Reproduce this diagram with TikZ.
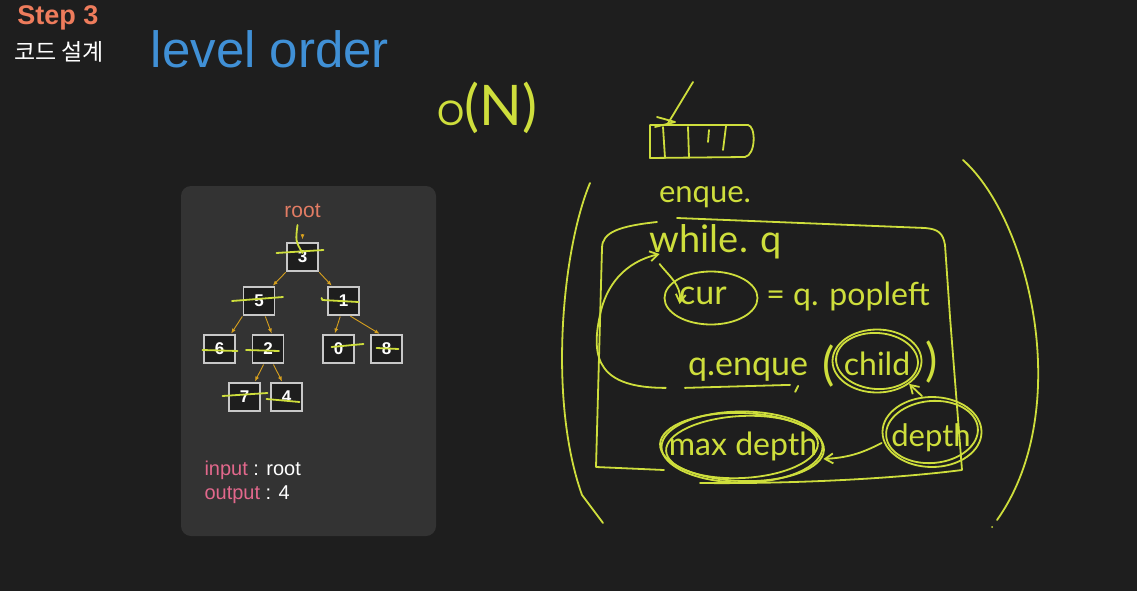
\documentclass[tikz,border=0pt]{standalone}
\usepackage{fontspec}
\setmainfont{Liberation Sans}
\newfontfamily\hand{Lato}
\newfontfamily\kr{Noto Sans CJK KR}
\usetikzlibrary{arrows.meta,positioning,calc,shapes.geometric}

\definecolor{bg}{RGB}{30,30,30}
\definecolor{card}{RGB}{51,51,51}
\definecolor{pen}{RGB}{206,222,60}
\definecolor{stepc}{RGB}{238,124,92}
\definecolor{titlec}{RGB}{64,144,214}
\definecolor{rootc}{RGB}{226,124,100}
\definecolor{ioc}{RGB}{226,104,140}
\definecolor{arrc}{RGB}{214,160,30}
\definecolor{boxline}{RGB}{200,200,200}

\newcommand{\fs}[1]{\fontsize{#1}{#1}\selectfont}

\begin{document}
\begin{tikzpicture}[x=1pt, y=-1pt,
  tnode/.style={draw=boxline, fill=bg, line width=1.2, minimum width=31, minimum height=28, inner sep=0pt, text=white, font=\bfseries\fs{17}},
  tarr/.style={-{Latex[length=5pt,width=4pt]}, arrc, line width=0.9, shorten <=1pt, shorten >=1pt},
  strike/.style={draw=pen, line width=1.8, line cap=round},
  penline/.style={draw=pen, line width=1.8, line cap=round, line join=round},
  harr/.style={penline, -{Straight Barb[length=8pt,width=10pt]}},
  hw/.style={text=pen, inner sep=0pt},
  ring/.style={draw=pen, line width=1.8, ellipse, inner sep=0pt}
]
\useasboundingbox (0,0) rectangle (1137,591);
\fill[bg] (0,0) rectangle (1137,591);

% title
\node[text=stepc, font=\bfseries\fs{27}] (step) at (58,18) {Step 3};
\node[text=white, font=\kr\fs{23}] (kor) at (59,52) {코드 설계};
\node[text=titlec, font=\fs{51}] (title) at (270,49) {level order};

% card with the tree
\fill[card, rounded corners=10] (181,186) rectangle (436,536);
\node[text=rootc, font=\fs{21}] (root) at (302.5,211) {root};

\node[tnode] (n3) at (302.5,257) {3};
\node[tnode] (n5) at (259,301) {5};
\node[tnode] (n1) at (343.5,301) {1};
\node[tnode] (n6) at (219.5,349) {6};
\node[tnode] (n2) at (268,349) {2};
\node[tnode] (n0) at (338.5,349) {0};
\node[tnode] (n8) at (386.5,349) {8};
\node[tnode] (n7) at (244.5,397) {7};
\node[tnode] (n4) at (286.5,397) {4};

\draw[tarr, shorten <=13pt, shorten >=3pt] (root) -- (n3);
\draw[tarr] (n3.south west) -- ([xshift=-3pt]n5.north east);
\draw[tarr] (n3.south east) -- ([xshift=5pt]n1.north west);
\draw[tarr] (n5.south west) -- ([xshift=-5pt]n6.north east);
\draw[tarr] ([xshift=6pt]n5.south) -- ([xshift=4pt]n2.north);
\draw[tarr] ([xshift=-3pt]n1.south) -- ([xshift=-4pt]n0.north);
\draw[tarr] ([xshift=6pt]n1.south) -- ([xshift=-6pt]n8.north);
\draw[tarr] ([xshift=-4pt]n2.south) -- ([xshift=10pt]n7.north);
\draw[tarr] ([xshift=5pt]n2.south) -- ([xshift=-4pt]n4.north);

% crossed out nodes
\draw[strike] ($(root)+(-5,14)$) .. controls ($(root)+(-7,30)$) .. ($(n3)+(0,-4)$);
\draw[strike] ($(n3)+(-26,-4)$) -- ($(n3)+(21,-7)$);
\draw[strike] ($(n5)+(-27,0)$) -- ($(n5)+(24,-4)$);
\draw[strike] ($(n1)+(-22,-3)$) -- ($(n1)+(-21,-1)$) -- ($(n1)+(15,1)$);
\draw[strike] ($(n6)+(-17,1)$) -- ($(n6)+(18,2)$);
\draw[strike] ($(n2)+(-22,1)$) -- ($(n2)+(11,2)$);
\draw[strike] ($(n0)+(-7,-2)$) -- ($(n0)+(25,-5)$);
\draw[strike] ($(n8)+(-10,-1)$) -- ($(n8)+(12,0)$);
\draw[strike] ($(n7)+(-22,-1)$) -- ($(n7)+(23,-4)$);
\draw[strike] ($(n4)+(-20,2)$) -- ($(n4)+(13,5)$);

\node[anchor=west, text=white, font=\fs{20}] (inp) at (201,470) {\textcolor{ioc}{input} : root};
\node[anchor=west, text=white, font=\fs{20}] (outp) at (201,495) {\textcolor{ioc}{output} : 4};

% handwritten notes
\node[hw, font=\hand\fs{56}] (big) at (487,108) {{\fs{34}O}(N)};

\draw[penline] (650,125) -- (748,125) .. controls (756,126) and (756,155) .. (745,157) -- (650,158) -- cycle;
\draw[penline] (663,127) -- (665,158);
\draw[penline] (688,127) -- (689,158);
\draw[penline] (709,130) -- (708,142);
\draw[penline] (726,126) -- (723,150);
\draw[penline] (693,82) -- (667,125);
\draw[penline] (657,117) -- (675,122) -- (655,127);

\draw[penline] (590,183) .. controls (562,250) and (548,400) .. (582,495) -- (603,523);
\draw[penline] (963,160) .. controls (1030,220) and (1075,410) .. (997,520);
\fill[pen] (992,527) circle (1);

\node[hw, font=\hand\fs{31}] (enq0) at (705,197) {enque.};
\node[hw, font=\hand\fs{38}] (while) at (716,242) {while. q};
\node[ring, minimum width=93, minimum height=53] (cur) at (711,298) {};
\node[hw, font=\hand\fs{34}] (curt) at (703,296) {cur};
\node[hw, font=\hand\fs{32}] (pop) at (848,296) {= q. popleft};

\node[hw, font=\hand\fs{34}] (enq) at (748,370) {q.enque};
\node[ring, minimum width=89, minimum height=63] (child) at (877,361) {};
\draw[penline] (child.center) ellipse[x radius=41, y radius=28, rotate=-4];
\node[hw, font=\hand\fs{32}] (childt) at (877,364) {child};
\node[hw, font=\hand\fs{46}] (lpar) at (829,366) {(};
\node[hw, font=\hand\fs{46}] (rpar) at (932,362) {)};
\draw[penline] ($(enq.south west)+(-3,6)$) -- ($(enq.south east)+(-18,3)$);
\draw[penline] ($(enq.south east)+(-13,10)$) -- ($(enq.south east)+(-10,4)$);

\node[ring, minimum width=161, minimum height=71] (maxd) at (742,447) {};
\draw[penline] (maxd.center) ellipse[x radius=76, y radius=31, rotate=3];
\draw[penline] (maxd.center) ellipse[x radius=82, y radius=34, rotate=-2];
\node[hw, font=\hand\fs{32}] (maxdt) at (743,446) {max depth};

\node[ring, minimum width=99, minimum height=70] (depth) at (932,432) {};
\draw[penline] (depth.center) ellipse[x radius=46, y radius=31, rotate=5];
\node[hw, font=\hand\fs{31}] (deptht) at (931,438) {depth};

% loop box
\draw[penline] (657,222) .. controls (620,226) and (602,232) .. (602,248) -- (596,467) -- (664,470);
\draw[penline] (700,483) .. controls (800,484) and (900,478) .. (962,470) -- (950,317) -- (945,245) .. controls (943,233) and (938,229) .. (925,228) -- (677,218);

\draw[harr] ($(enq.south west)+(-22,6)$) .. controls (600,388) and (590,360) .. (600,315) .. controls (606,285) and (625,262) .. ($(while.west)+(10,12)$);
\draw[harr] ($(while.west)+(10,22)$) .. controls (668,275) and (682,285) .. ($(cur.west)+(16,6)$);
\draw[harr] ([xshift=-10pt]depth.north) -- (child.south east);
\draw[harr] ([yshift=-11pt]depth.west) to[bend left=12] ([yshift=-12pt]maxd.east);

\end{tikzpicture}
\end{document}
